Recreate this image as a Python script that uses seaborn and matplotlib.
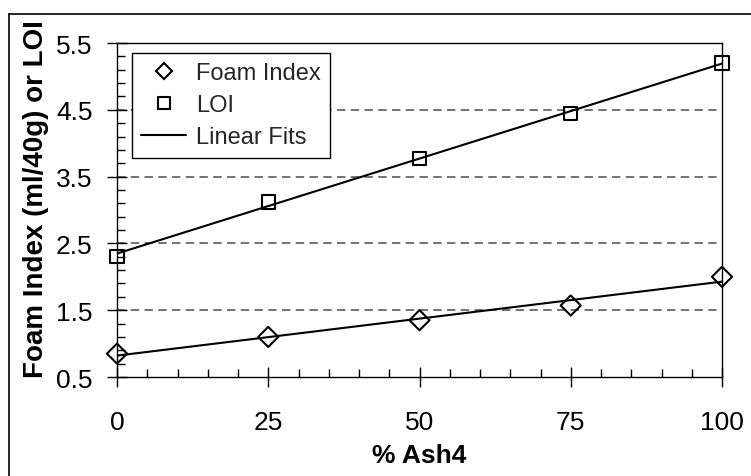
import numpy as np
import pandas as pd
import matplotlib
matplotlib.use("Agg")
import matplotlib.pyplot as plt
import seaborn as sns
from matplotlib.lines import Line2D
from matplotlib.ticker import MultipleLocator

# ---- data ----
ash_pct = [0, 25, 50, 75, 100]
foam_index = [0.85, 1.10, 1.35, 1.57, 2.00]
loi = [2.31, 3.12, 3.77, 4.45, 5.20]
x_ticks = [0, 25, 50, 75, 100]
y_ticks = [0.5, 1.5, 2.5, 3.5, 4.5, 5.5]
grid_levels = [1.5, 2.5, 3.5, 4.5]
legend_labels = ["Foam Index", "LOI", "Linear Fits"]

sns.set_style("ticks")
plt.rcParams["font.family"] = ["Liberation Sans", "DejaVu Sans"]

df = pd.DataFrame({"ash": ash_pct, "foam": foam_index, "loi": loi})

W, H = 751, 477
fig = plt.figure(figsize=(W / 100, H / 100), dpi=100)
L, R, T, B = 117, 722, 44, 378
ax = fig.add_axes([L / W, 1 - B / H, (R - L) / W, (B - T) / H])

# dashed horizontal gridlines
for yv in grid_levels:
    ax.axhline(yv, color="#4d4d4d", lw=1.1, ls=(0, (5.5, 3.5)), zorder=0)

# linear fits
for col in ["foam", "loi"]:
    sns.regplot(data=df, x="ash", y=col, ax=ax, scatter=False, ci=None,
                truncate=True, color="black", line_kws={"lw": 1.5, "zorder": 2})

# markers
sns.scatterplot(data=df, x="ash", y="foam", ax=ax, marker="D", s=105,
                facecolor="none", edgecolor="black", linewidth=1.5, zorder=3,
                clip_on=False)
sns.scatterplot(data=df, x="ash", y="loi", ax=ax, marker="s", s=90,
                facecolor="none", edgecolor="black", linewidth=1.5, zorder=3,
                clip_on=False)

ax.set_xlim(0, 100)
ax.set_ylim(0.5, 5.5)
ax.set_xticks(x_ticks)
ax.set_yticks(y_ticks)
ax.set_xticklabels([str(v) for v in x_ticks])
ax.set_yticklabels([f"{v:.1f}" for v in y_ticks])
ax.xaxis.set_minor_locator(MultipleLocator(5))
ax.yaxis.set_minor_locator(MultipleLocator(0.2, offset=0.1))

ax.tick_params(which="both", top=False, right=False, color="black")
ax.tick_params(which="major", direction="inout", length=14, width=1,
               labelsize=19, labelcolor="black")
ax.tick_params(axis="x", which="major", pad=17)
ax.tick_params(axis="y", which="major", pad=10.5)
ax.tick_params(which="minor", direction="in", length=6, width=1)

for sp in ax.spines.values():
    sp.set_visible(True)
    sp.set_color("black")
    sp.set_linewidth(1.0)

ax.set_xlabel("% Ash4", fontsize=19, fontweight="bold", labelpad=6, color="black")
ax.set_ylabel("Foam Index (ml/40g) or LOI", fontsize=20, fontweight="bold", color="black")
ax.yaxis.set_label_coords(-0.112, 0.536)

# legend
handles = [
    Line2D([], [], marker="D", ls="none", mfc="none", mec="black", mew=1.5, ms=8),
    Line2D([], [], marker="s", ls="none", mfc="none", mec="black", mew=1.5, ms=9),
    Line2D([], [], color="black", lw=1.5),
]
leg = ax.legend(handles, legend_labels, loc="upper left",
                bbox_to_anchor=((132 - L) / (R - L), (B - 54) / (B - T)),
                borderaxespad=0, fontsize=17, frameon=True, fancybox=False,
                edgecolor="black", framealpha=1, handlelength=1.9,
                handletextpad=0.4, labelspacing=0.42, borderpad=0.4)
leg.get_frame().set_linewidth(1.0)

# outer frame (partially visible in the reference)
fig.add_artist(Line2D([9 / W, 9 / W], [0, 1 - 15 / H], transform=fig.transFigure,
                      color="black", lw=1.2))
fig.add_artist(Line2D([9 / W, 1], [1 - 15 / H, 1 - 15 / H], transform=fig.transFigure,
                      color="black", lw=1.2))

fig.savefig("out.png", dpi=100)
